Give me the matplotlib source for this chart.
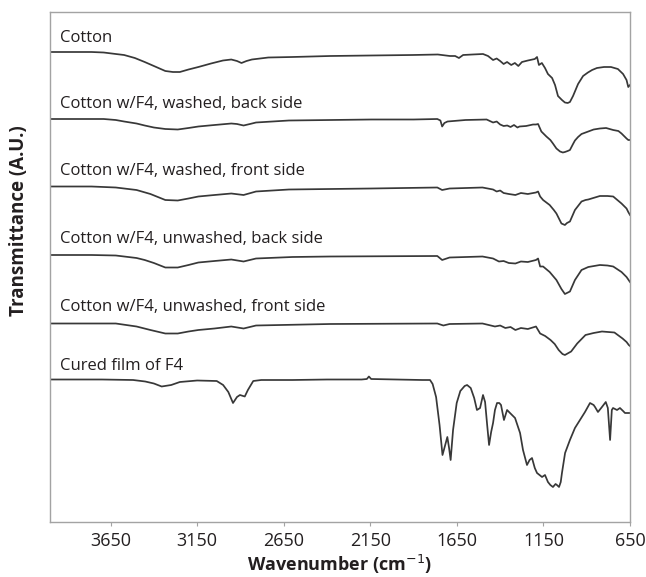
import matplotlib.pyplot as plt

plt.rcParams.update({
    "font.family": ["Open Sans", "DejaVu Sans"],
    "axes.unicode_minus": False,
})

line_col  = "#383838"
spine_col = "#a3a3a3"
text_col  = "#231f20"

# wavenumbers (cm-1) and transmittance (A.U., stacked)
wn_cotton = [4000, 3880, 3760, 3690, 3620, 3572, 3510, 3453, 3400, 3334, 3290, 3250, 3200, 3143, 3070,
             3001, 2953, 2920, 2894, 2865, 2834, 2739, 2600, 2382, 2150, 1906, 1760, 1690, 1660, 1638,
             1614, 1560, 1499, 1470, 1441, 1420, 1400, 1380, 1360, 1336, 1315, 1295, 1274, 1240, 1200,
             1187, 1176, 1159, 1141, 1124, 1100, 1083, 1066, 1043, 1026, 1010, 997, 979, 950, 921,
             893, 869, 841, 800, 760, 720, 690, 670, 660, 650]
t_cotton = [470, 470, 470, 469.5, 468, 467, 464, 460, 456, 451, 450, 450, 452.5, 455, 458.5,
            461.5, 462.5, 461, 459, 461, 462.5, 464.5, 465, 466, 466.5, 467, 467.5, 466, 466, 464,
            467, 467.5, 468, 466, 462, 463.5, 461, 458, 460, 457, 459, 456, 460, 461.5, 463,
            465, 457, 459, 454, 448, 444, 437, 426, 422, 419.5, 419, 420, 426, 438, 446,
            449.5, 452, 454, 455, 455, 453, 448, 442, 435, 437]

wn_wash_back = [4000, 3760, 3690, 3620, 3572, 3500, 3453, 3400, 3334, 3262, 3200, 3143, 3050, 2953, 2920,
                2882, 2845, 2810, 2620, 2380, 2144, 1900, 1763, 1745, 1735, 1722, 1704, 1600, 1478, 1441,
                1420, 1400, 1380, 1359, 1340, 1320, 1300, 1288, 1250, 1210, 1193, 1181, 1162, 1133, 1110,
                1095, 1075, 1054, 1038, 1026, 1010, 997, 979, 968, 950, 930, 891, 860, 824, 788,
                747, 717, 699, 670, 660, 650]
t_wash_back = [403, 403, 403, 402, 400.5, 398.5, 396.5, 394.5, 393, 392.5, 394, 395.5, 397, 398.5, 398,
               396.5, 398, 399.5, 401.5, 402, 402.5, 402.5, 403, 401.5, 395.5, 399, 400.5, 402, 402.5, 399.5,
               400.5, 397.5, 396, 396.5, 395, 397, 394.5, 395.5, 396, 397.5, 397.5, 398, 390.5, 385.5, 382,
               378.5, 373.5, 370.5, 369.5, 370, 371, 372, 378, 381.5, 385, 388, 390.5, 392.5, 393.5, 394,
               392, 391, 388.5, 383.5, 382, 382]

wn_wash_front = [4000, 3760, 3620, 3500, 3420, 3334, 3262, 3200, 3143, 3050, 2953, 2882, 2810, 2620, 2144,
                 1763, 1735, 1692, 1502, 1441, 1420, 1400, 1380, 1350, 1312, 1280, 1240, 1193, 1181, 1169,
                 1152, 1114, 1090, 1075, 1046, 1026, 1014, 997, 968, 930, 907, 891, 824, 780, 747,
                 699, 670, 660, 650]
t_wash_front = [335.5, 335.5, 334.5, 332, 328, 322, 321.5, 323.5, 325.5, 327, 328.5, 327, 330.5, 332.5, 333.5,
                334.5, 332, 333.5, 334.5, 332.5, 330.5, 331.5, 329, 328, 327, 329, 328, 329.5, 330.5, 325.5,
                322, 317, 312, 308.5, 298.5, 297, 299, 300.5, 312, 320.5, 322, 322.5, 326, 326, 325.5,
                318.5, 313.5, 310, 307]

wn_unwash_back = [4000, 3760, 3620, 3500, 3453, 3400, 3334, 3262, 3200, 3143, 3050, 2953, 2882, 2810, 2600,
                  2382, 1763, 1735, 1692, 1502, 1441, 1407, 1380, 1350, 1312, 1280, 1240, 1193, 1181, 1169,
                  1152, 1114, 1075, 1046, 1026, 997, 968, 930, 891, 824, 780, 747, 699, 670, 650]
t_unwash_back = [267, 267, 266.5, 264, 262, 259, 254.5, 254.5, 257, 259.5, 261, 262.5, 260.5, 263.5, 265,
                 265.5, 266, 262, 264.5, 265.5, 263.5, 260.5, 261, 259, 258.5, 260.5, 260, 262, 263.5, 255.5,
                 255.5, 250, 242, 233, 228, 230.5, 242, 252, 255, 257, 256.5, 255.5, 250, 245, 240]

wn_unwash_front = [4000, 3620, 3500, 3420, 3334, 3262, 3200, 3143, 3050, 2953, 2882, 2810, 2382, 1763, 1728,
                   1692, 1502, 1430, 1400, 1370, 1340, 1312, 1280, 1240, 1193, 1169, 1140, 1109, 1085, 1062,
                   1040, 1026, 990, 955, 907, 860, 812, 740, 693, 670, 657, 650]
t_unwash_front = [198.5, 198.5, 195.5, 192, 188.5, 188.5, 190.5, 192, 193.5, 195.5, 193.5, 196.5, 198, 198.5, 196.5,
                  198, 198.5, 195.5, 196.5, 194, 195, 192, 194, 193, 195.5, 188.5, 186, 182, 178, 172,
                  168, 167, 170.5, 178.5, 187, 189, 190.5, 189.5, 183.5, 180, 177, 176]

wn_film = [4000, 3700, 3520, 3450, 3400, 3355, 3300, 3250, 3150, 3037, 3000, 2970, 2943, 2920, 2903, 2875,
           2857, 2826, 2780, 2600, 2400, 2200, 2170, 2158, 2145, 2000, 1850, 1805, 1790, 1770, 1750, 1733,
           1722, 1705, 1695, 1686, 1672, 1651, 1630, 1605, 1591, 1570, 1550, 1534, 1516, 1499, 1487, 1475,
           1464, 1452, 1441, 1430, 1418, 1405, 1395, 1378, 1360, 1343, 1314, 1285, 1268, 1245, 1230, 1216,
           1200, 1187, 1158, 1141, 1124, 1110, 1095, 1080, 1072, 1060, 1050, 1043, 1025, 997, 968, 939,
           910, 881, 860, 852, 835, 812, 790, 778, 765, 755, 748, 725, 708, 690, 679, 650]
t_film = [142.5, 142.5, 142, 140.5, 138.5, 135.5, 137, 140, 141.5, 141, 137, 130, 119, 125, 127, 125.5,
          132, 141, 142, 142, 142.5, 142.5, 143, 145.5, 143, 142.5, 142, 142, 138, 125, 97, 67,
          74, 85, 74, 62, 92, 119, 131, 136, 137, 134, 124, 112, 114, 127, 120, 97,
          77, 90, 99, 112, 119, 119, 117, 102, 112, 109, 104, 89, 72, 57, 62, 64,
          54, 49, 45, 47, 40, 37, 35, 38, 37, 35, 40, 49, 69, 82, 94, 102,
          110, 119, 117, 115, 110, 115, 120, 114, 82, 112, 114, 112, 114, 111, 109, 109]

series = [
    ("Cotton", wn_cotton, t_cotton, 484),
    ("Cotton w/F4, washed, back side", wn_wash_back, t_wash_back, 418),
    ("Cotton w/F4, washed, front side", wn_wash_front, t_wash_front, 351),
    ("Cotton w/F4, unwashed, back side", wn_unwash_back, t_unwash_back, 283),
    ("Cotton w/F4, unwashed, front side", wn_unwash_front, t_unwash_front, 215),
    ("Cured film of F4", wn_film, t_film, 156),
]

fig = plt.figure(figsize=(6.46, 5.77), dpi=100)
ax = fig.add_axes([50 / 646, 1 - 522 / 577, 580 / 646, 510 / 577])

for name, wn, t, label_y in series:
    ax.plot(wn, t, color=line_col, lw=1.25)
    ax.text(3942, label_y, name, fontsize=12, color=text_col, va="center", ha="left")

ax.set_xlim(4000, 650)
ax.set_ylim(0, 510)
ax.set_xticks([3650, 3150, 2650, 2150, 1650, 1150, 650])
ax.set_yticks([])
ax.tick_params(axis="x", direction="out", length=3, width=0.8, color=spine_col,
               labelsize=13, labelcolor=text_col, pad=4)
for s in ax.spines.values():
    s.set_color(spine_col)
    s.set_linewidth(1.0)

ax.set_xlabel("Wavenumber (cm$^{-1}$)", fontsize=13, fontweight="bold", color=text_col, labelpad=2.5)
ax.set_ylabel("Transmittance (A.U.)", fontsize=13.5, fontweight="bold", color=text_col)
ax.yaxis.set_label_coords(-0.036, 0.59)

fig.savefig("out.png", dpi=100)
